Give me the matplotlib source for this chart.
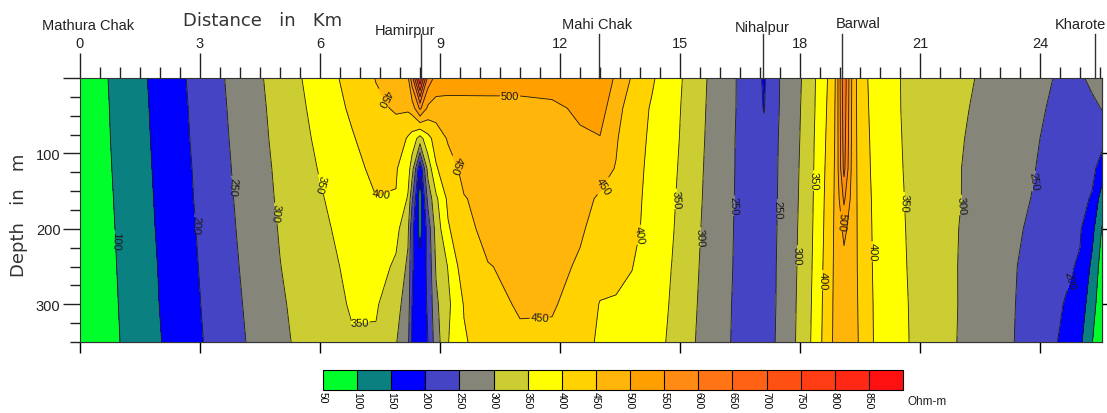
import numpy as np
import matplotlib
matplotlib.use("Agg")
import matplotlib.pyplot as plt
from matplotlib.transforms import blended_transform_factory

plt.rcParams['font.family'] = ['Liberation Sans', 'DejaVu Sans']

# grid: distance along profile (km) and depth (m)
dist_km = [0, 1, 2, 3, 4, 5, 6, 6.8, 7.4, 7.9, 8.2, 8.3, 8.5, 8.7, 8.9, 9.2, 9.6,
           10.2, 11.0, 11.8, 12.5, 13.0, 13.4, 13.8, 14.3, 14.8, 15.4, 16.0, 16.6,
           17.1, 17.6, 18.1, 18.4, 18.7, 18.9, 19.1, 19.3, 19.5, 19.85,
           21, 22, 23, 23.8, 24.5, 25.0, 25.3, 25.55]
depth_m = [0, 40, 80, 120, 160, 200, 250, 300, 350]

# resistivity (Ohm-m) along the profile, one list per depth
res_0m = [65, 115, 166, 218, 270, 321, 374, 418, 452, 478, 492, 580, 800, 580, 535, 530, 528,
          526, 525, 530, 525, 515, 497, 445, 405, 372, 321, 275, 238, 195, 265, 305, 352,
          402, 455, 640, 495, 415, 388, 322, 310, 283, 265, 245, 242, 262, 295]
res_40m = [64, 113, 164, 215, 267, 317, 367, 408, 440, 455, 458, 470, 560, 490, 478, 478, 480,
           482, 483, 488, 510, 520, 470, 423, 396, 368, 318, 274, 238, 198, 266, 307, 354,
           406, 457, 632, 493, 418, 389, 322, 306, 280, 262, 238, 232, 238, 252]
res_80m = [62, 112, 162, 213, 264, 314, 360, 396, 425, 430, 395, 380, 330, 385, 420, 455, 468,
           475, 478, 482, 492, 498, 455, 418, 393, 365, 316, 272, 237, 210, 266, 309, 357,
           410, 458, 625, 490, 422, 390, 324, 303, 277, 256, 235, 228, 220, 215]
res_120m = [61, 110, 160, 210, 261, 310, 353, 385, 412, 404, 370, 325, 160, 320, 395, 430, 462,
            470, 472, 475, 472, 465, 448, 415, 390, 361, 313, 271, 237, 212, 267, 311, 359,
            414, 460, 615, 487, 426, 391, 326, 301, 274, 253, 230, 222, 212, 180]
res_160m = [59, 108, 158, 208, 258, 307, 346, 375, 399, 398, 345, 260, 120, 265, 340, 410, 448,
            462, 468, 468, 462, 445, 430, 412, 388, 357, 311, 269, 237, 215, 267, 313, 361,
            418, 461, 560, 483, 430, 393, 328, 301, 271, 249, 226, 212, 196, 125]
res_200m = [58, 106, 156, 205, 255, 303, 340, 368, 385, 365, 310, 215, 130, 220, 320, 395, 435,
            465, 466, 466, 455, 436, 425, 410, 386, 354, 308, 268, 236, 217, 268, 315, 363,
            421, 462, 512, 478, 434, 394, 330, 299, 266, 244, 222, 204, 165, 97]
res_250m = [56, 104, 153, 202, 251, 299, 334, 360, 370, 342, 290, 205, 168, 210, 305, 352, 430,
            448, 460, 462, 445, 418, 415, 401, 380, 349, 305, 266, 236, 220, 269, 317, 366,
            425, 463, 485, 473, 438, 395, 332, 298, 264, 238, 210, 196, 140, 78]
res_300m = [54, 102, 151, 199, 247, 294, 330, 354, 355, 318, 275, 200, 175, 205, 290, 340, 403,
            435, 455, 455, 430, 398, 395, 392, 376, 345, 302, 264, 235, 222, 269, 320, 369,
            428, 464, 482, 470, 442, 397, 334, 298, 265, 234, 204, 178, 120, 68]
res_350m = [52, 100, 148, 196, 243, 290, 326, 346, 344, 303, 260, 195, 178, 200, 275, 348, 395,
            425, 442, 440, 420, 392, 385, 380, 372, 340, 299, 262, 235, 225, 270, 322, 372,
            430, 465, 480, 468, 445, 398, 335, 297, 266, 230, 197, 160, 102, 60]

levels = list(range(50, 901, 50))
band_colors = ['#00ff2a', '#0a8080', '#0000ff', '#4444c4', '#85857a', '#cccc33',
               '#ffff00', '#ffd200', '#ffb50a', '#ffa000', '#ff8a14', '#ff7414',
               '#ff6214', '#ff5014', '#ff3c14', '#ff2814', '#ff1010']

stations = ["Mathura Chak", "Hamirpur", "Mahi Chak", "Nihalpur", "Barwal", "Kharote"]
station_km = [0, 8.52, 12.97, 17.08, 19.05, 25.38]

# layout of the station names (offsets in points, heights in px above the frame)
name_dx = [6, -11.5, -1.5, -0.7, 12, -11]
name_up = [53, 48, 54, 51, 55, 54]

# where the contour values are written
label_spots = [(1.1, 215), (3.09, 193), (3.96, 143), (5.05, 178), (6.0, 141),
               (7.55, 158), (7.67, 24), (7.0, 333), (10.75, 21), (9.38, 116),
               (11.5, 322), (13.08, 143), (13.9, 207), (14.8, 160), (15.4, 211),
               (16.2, 169), (17.4, 174), (17.85, 235), (18.3, 136), (18.55, 268),
               (19.05, 190), (19.65, 230), (20.55, 165), (22.15, 169), (23.8, 136),
               (24.75, 268)]

Z = np.array([res_0m, res_40m, res_80m, res_120m, res_160m,
              res_200m, res_250m, res_300m, res_350m])

W, H = 1107, 414
fig = plt.figure(figsize=(W / 100, H / 100), dpi=100)
ax = fig.add_axes([80 / W, 71 / H, 1022 / W, 264 / H])

cf = ax.contourf(dist_km, depth_m, Z, levels=levels, colors=band_colors)
cl = ax.contour(dist_km, depth_m, Z, levels=levels[1:-1], colors='#1a1a1a', linewidths=0.6)
texts = ax.clabel(cl, manual=label_spots, fmt='%d', fontsize=8, inline=True, inline_spacing=1)
# labels on steep lines read downwards, as in the original
for t in texts:
    r = t.get_rotation() % 360
    if 45 < r < 135:
        t.set_rotation(r - 180)

ax.set_xlim(0, 25.55)
ax.set_ylim(350, 0)

# distance axis on top
ax.xaxis.set_ticks_position('top')
ax.set_xticks(range(0, 25, 3))
ax.set_xticks(np.arange(0, 25.6, 0.5), minor=True)
ax.tick_params(axis='x', which='major', length=18, width=1, pad=2, labelsize=10.5, colors='#222')
ax.tick_params(axis='x', which='minor', length=8, width=1, colors='#222')

bot = ax.secondary_xaxis('bottom')
bot.set_xticks(range(0, 25, 3))
bot.tick_params(length=8, width=1, labelbottom=False)

# depth axis
ax.set_yticks([0, 100, 200, 300])
ax.set_yticklabels(['', '100', '200', '300'])
ax.set_yticks(np.arange(0, 351, 25), minor=True)
ax.tick_params(axis='y', which='major', length=12, width=1, pad=2, labelsize=10.5, colors='#222')
ax.tick_params(axis='y', which='minor', length=7, width=1, colors='#222')

rgt = ax.secondary_yaxis('right')
rgt.set_yticks([100, 200, 300])
rgt.tick_params(length=6, width=1, labelright=False)

for s in ax.spines.values():
    s.set_color('#333')

# station markers
trans = blended_transform_factory(ax.transData, ax.transAxes)
for name, km, dx, up in zip(stations, station_km, name_dx, name_up):
    if km > 0:
        ax.plot([km, km], [1, 1 + 44 / 264], transform=trans, color='#333', lw=1, clip_on=False)
    ax.annotate(name, xy=(km, 1 + up / 264), xycoords=trans, xytext=(dx, 0),
                textcoords='offset points', ha='center', va='center',
                fontsize=10.5, color='#222')

fig.text(263 / W, 1 - 21 / H, "Distance   in   Km", ha='center', va='center',
         fontsize=13, family='DejaVu Sans', color='#333')
fig.text(19 / W, 1 - 215 / H, "Depth   in   m", ha='center', va='center', rotation=90,
         fontsize=13, family='DejaVu Sans', color='#333')

# colour scale
cax = fig.add_axes([323 / W, 23 / H, 580 / W, 20 / H])
cb = fig.colorbar(cf, cax=cax, orientation='horizontal', ticks=levels[:-1], drawedges=True)
cb.ax.set_xticklabels([str(v) for v in levels[:-1]], rotation=270)
cb.ax.tick_params(length=0, labelsize=7.5, pad=1)
cb.outline.set_linewidth(0.8)
cb.dividers.set_linewidth(0.8)
fig.text(908 / W, 1 - 402 / H, "Ohm-m", fontsize=8.5, va='center', color='#222')

fig.savefig("out.png", dpi=100)
